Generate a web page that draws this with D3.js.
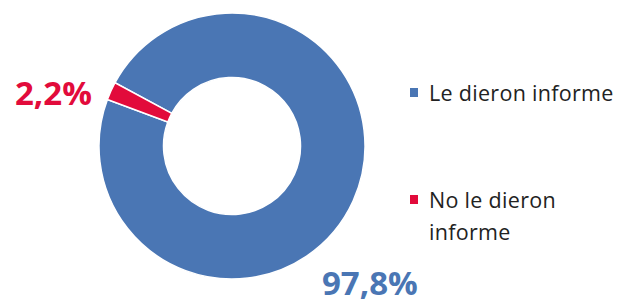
<!DOCTYPE html>
<html>
<head>
  <meta charset="UTF-8">
  <title>Donut</title>
  <style>
    body { margin: 0; background: #fff; }
    svg { display: block; }
  </style>
</head>
<body>
<svg></svg>
<script src="https://d3js.org/d3.v7.min.js"></script>
<script>
    let width = 621, height = 304;

    // data
    var categories = ["Le dieron informe", "No le dieron informe"];
    var values = [97.8, 2.2];
    var valueLabels = ["97,8%", "2,2%"];
    var legendLines = [["Le dieron informe"], ["No le dieron", "informe"]];
    var colors = ["#4A76B4", "#E20B3B"];

    let svg = d3.select("svg")
        .attr("width", width)
        .attr("height", height);

    let cx = 232, cy = 146, outerR = 133, innerR = 68.5;
    // excel rotation of first slice
    let start = -61.6 * Math.PI / 180;

    var pie = d3.pie()
        .sort(null)
        .value(d => d)
        .startAngle(start)
        .endAngle(start + 2 * Math.PI);

    var arc = d3.arc()
        .innerRadius(innerR)
        .outerRadius(outerR);

    var color = d3.scaleOrdinal().domain(categories).range(colors);

    let g = svg.append("g")
        .attr("transform", "translate(" + cx + "," + cy + ")");

    g.selectAll("path")
        .data(pie(values))
        .enter()
        .append("path")
        .attr("d", arc)
        .attr("fill", (d, i) => color(categories[i]))
        .attr("stroke", "#fff")
        .attr("stroke-width", 1.5);

    // data labels (moved by hand in the original, so offsets from centre)
    var labelPos = [[90, 149], [-217, -41]];
    g.selectAll("text.val")
        .data(valueLabels)
        .enter()
        .append("text")
        .attr("class", "val")
        .attr("x", (d, i) => labelPos[i][0])
        .attr("y", (d, i) => labelPos[i][1])
        .attr("font-family", "'Open Sans', sans-serif")
        .attr("font-weight", "bold")
        .attr("font-size", 33)
        .attr("fill", (d, i) => color(categories[i]))
        .text(d => d);

    // legend
    var legendY = [88, 195];
    var legend = svg.selectAll("g.legend")
        .data(categories)
        .enter().append("g")
        .attr("class", "legend")
        .attr("transform", (d, i) => "translate(410," + legendY[i] + ")");

    legend.append("rect")
        .attr("x", 0)
        .attr("y", 0)
        .attr("width", 8)
        .attr("height", 9)
        .attr("fill", d => color(d));

    legend.each(function (d, i) {
        let t = d3.select(this).append("text")
            .attr("font-family", "'Open Sans', sans-serif")
            .attr("font-size", 21.5)
            .attr("letter-spacing", 0.3)
            .attr("fill", "#222");
        legendLines[i].forEach((line, j) => {
            t.append("tspan")
                .attr("x", 19)
                .attr("y", 13 + j * 32)
                .text(line);
        });
    });
</script>
</body>
</html>
